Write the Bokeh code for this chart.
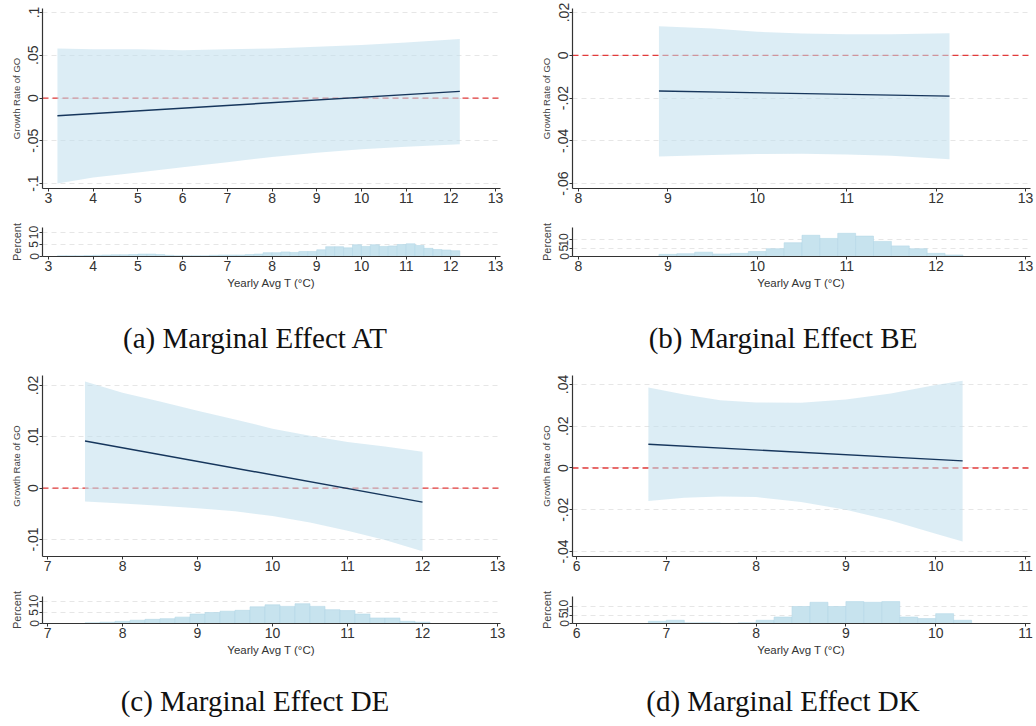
import numpy as np
from bokeh.plotting import figure
from bokeh.layouts import column, row
from bokeh.models import Span, Div
from bokeh.embed import file_html
from bokeh.resources import INLINE

# ---------------- data ----------------
# (a) AT
at_x = [3.2, 4, 5, 6, 7, 8, 9, 10, 11, 12.2]
at_upper = [0.058, 0.057, 0.057, 0.056, 0.057, 0.058, 0.060, 0.062, 0.065, 0.069]
at_lower = [-0.100, -0.093, -0.087, -0.081, -0.075, -0.069, -0.064, -0.060, -0.057, -0.054]
at_line_x = [3.2, 12.2]
at_line_y = [-0.0207, 0.0078]
at_yticks = [-0.1, -0.05, 0, 0.05, 0.1]
at_ylabels = ["-.1", "-.05", "0", ".05", ".1"]
at_xticks = [3, 4, 5, 6, 7, 8, 9, 10, 11, 12, 13]
at_bin_start = 3.2
at_pct = [0.3, 0.3, 0.3, 0.4,
          0.5, 0.6, 0.7, 0.7, 0.8,
          1.0, 1.0, 0.8, 0.5, 0.3,
          0.3, 0.3, 0.3, 0.5, 0.6,
          0.6, 0.6, 0.8, 1.0, 1.6,
          1.6, 1.9, 1.7, 2.1, 2.1,
          2.8, 4.1, 4.1, 3.6, 4.9,
          4.2, 4.9, 4.2, 4.4, 5.0,
          5.3, 4.6, 3.4, 2.9, 2.7,
          2.4]

# (b) BE
be_x = [8.9, 9.5, 10, 10.5, 11, 11.5, 12.15]
be_upper = [0.0136, 0.0125, 0.0110, 0.0102, 0.0098, 0.0098, 0.0103]
be_lower = [-0.0473, -0.0466, -0.0462, -0.0461, -0.0464, -0.0470, -0.0486]
be_line_x = [8.9, 12.15]
be_line_y = [-0.0167, -0.0191]
be_yticks = [-0.06, -0.04, -0.02, 0, 0.02]
be_ylabels = ["-.06", "-.04", "-.02", "0", ".02"]
be_xticks = [8, 9, 10, 11, 12, 13]
be_bin_start = 8.9
be_pct = [1.3, 1.7, 2.6, 1.5, 1.9, 3.0, 4.7, 8.3, 12.8, 10.9,
          14.0, 12.3, 9.1, 6.4, 4.7, 1.9, 0.9]

# (c) DE
de_x = [7.5, 8, 8.5, 9, 9.5, 10, 10.5, 11, 11.5, 12]
de_upper = [0.0208, 0.0186, 0.0169, 0.0151, 0.0134, 0.0116, 0.0102, 0.0090, 0.0081, 0.0071]
de_lower = [-0.0026, -0.0030, -0.0034, -0.0039, -0.0045, -0.0054, -0.0067, -0.0083, -0.0101, -0.0123]
de_line_x = [7.5, 12]
de_line_y = [0.0092, -0.0027]
de_yticks = [-0.01, 0, 0.01, 0.02]
de_ylabels = ["-.01", "0", ".01", ".02"]
de_xticks = [7, 8, 9, 10, 11, 12, 13]
de_bin_start = 7.5
de_pct = [0.3, 0.6, 1.0, 1.5, 1.9, 2.2, 2.9, 4.3, 5.0, 5.6, 6.0, 7.6,
          8.5, 7.8, 9.0, 7.8, 6.3, 5.9, 4.3, 2.5, 2.5, 1.0, 0.6]

# (d) DK
dk_x = [6.8, 7.2, 7.6, 8, 8.5, 9, 9.5, 10, 10.3]
dk_upper = [0.0386, 0.0352, 0.0325, 0.0314, 0.0312, 0.0328, 0.0357, 0.0397, 0.0418]
dk_lower = [-0.0158, -0.0142, -0.0136, -0.0139, -0.0163, -0.0200, -0.0251, -0.0315, -0.0352]
dk_line_x = [6.8, 10.3]
dk_line_y = [0.0114, 0.0034]
dk_yticks = [-0.04, -0.02, 0, 0.02, 0.04]
dk_ylabels = ["-.04", "-.02", "0", ".02", ".04"]
dk_xticks = [6, 7, 8, 9, 10, 11]
dk_bin_start = 6.8
dk_pct = [1.3, 1.9, 0.4, 0.4, 0.1, 0.4, 1.9, 3.8, 10.0, 12.5,
          10.0, 12.9, 12.5, 12.9, 3.8, 2.9, 5.8, 1.9]

bin_width = 0.2
hist_yticks = [0, 5, 10]

captions = ["(a) Marginal Effect AT", "(b) Marginal Effect BE",
            "(c) Marginal Effect DE", "(d) Marginal Effect DK"]
y_title = "Growth Rate of GO"
hist_title = "Percent"
x_title = "Yearly Avg T (\u00b0C)"

# ---------------- style ----------------
SANS = "Liberation Sans"
SERIF = "Liberation Serif"
BAND = "#bfdfec"
NAVY = "#16365c"
RED = "#e23b3b"
BAR = "#c7e3ee"
AXIS = "#333333"
GRID = "#e6e6e6"


def base_axes(p, xticks, yticks, ylabels, ylabel, ylab_size, ytick_size):
    p.outline_line_color = None
    p.xgrid.visible = False
    p.ygrid.grid_line_color = GRID
    p.ygrid.grid_line_dash = "5 4"
    p.xaxis.ticker = xticks
    p.yaxis.ticker = yticks
    p.yaxis.major_label_overrides = {t: s for t, s in zip(yticks, ylabels)}
    p.yaxis.major_label_orientation = "vertical"
    p.yaxis.axis_label = ylabel
    p.yaxis.axis_label_text_font_size = ylab_size
    p.yaxis.axis_label_text_font_style = "normal"
    p.yaxis.axis_label_text_color = "#444444"
    p.yaxis.axis_label_standoff = 4
    p.yaxis.major_label_text_font_size = ytick_size
    p.xaxis.major_label_text_font_size = "14px"
    for ax in p.axis:
        ax.axis_line_color = AXIS
        ax.axis_line_width = 1.2
        ax.major_tick_line_color = AXIS
        ax.major_tick_out = 3
        ax.major_tick_in = 0
        ax.minor_tick_line_color = None
        ax.major_label_standoff = 1
        ax.major_label_text_font = SANS
        ax.major_label_text_color = "#333333"
        ax.axis_label_text_font = SANS


def main_plot(width, height, left, right, top, bottom, xr, yr,
              bx, bup, blo, lx, ly, xticks, yticks, ylabels):
    p = figure(width=width, height=height, x_range=xr, y_range=yr,
               toolbar_location=None, output_backend="svg",
               min_border_left=left, min_border_right=right,
               min_border_top=top, min_border_bottom=bottom)
    base_axes(p, xticks, yticks, ylabels, y_title, "9.5px", "14px")
    p.add_layout(Span(location=0, dimension="width", line_color=RED,
                      line_dash="6 4", line_width=1.3, level="underlay"))
    p.varea(x=bx, y1=blo, y2=bup, fill_color=BAND, fill_alpha=0.55)
    p.line(lx, ly, line_color=NAVY, line_width=1.4)
    return p


def hist_plot(width, height, left, right, top, bottom, xr, ymax,
              start, pct, xticks):
    lo = [start + i * bin_width for i in range(len(pct))]
    hi = [v + bin_width for v in lo]
    p = figure(width=width, height=height, x_range=xr, y_range=(0, ymax),
               toolbar_location=None, output_backend="svg",
               min_border_left=left, min_border_right=right,
               min_border_top=top, min_border_bottom=bottom)
    base_axes(p, xticks, hist_yticks, [str(t) for t in hist_yticks],
              hist_title, "11px", "12px")
    p.quad(left=lo, right=hi, bottom=0, top=pct, fill_color=BAR,
           line_color="#b6d9e7", line_width=0.6)
    p.xaxis.axis_label = x_title
    p.xaxis.axis_label_text_font_size = "11.5px"
    p.xaxis.axis_label_text_font_style = "normal"
    p.xaxis.axis_label_text_color = "#333333"
    p.xaxis.axis_label_standoff = 3
    return p


def caption_div(width, height, pad, shift, text):
    html = ('<div style="width:%dpx;text-align:center;font-family:\'%s\';'
            'font-size:29px;line-height:29px;color:#111;padding-top:%dpx;'
            'position:relative;left:%dpx;white-space:nowrap">%s</div>'
            % (width, SERIF, pad, shift, text))
    return Div(text=html, width=width, height=height, margin=0)


LW, RW = 518, 516
L_L, L_R = 42, 18
R_L, R_R = 54, 4

# row 1
pa = main_plot(LW, 218, L_L, L_R, 8, 30, (2.866, 13.11), (-0.1058, 0.1047),
               at_x, at_upper, at_lower, at_line_x, at_line_y,
               at_xticks, at_yticks, at_ylabels)
ha = hist_plot(LW, 82, L_L, L_R, 9, 44, pa.x_range, 12.1,
               at_bin_start, at_pct, at_xticks)
ca = caption_div(LW, 60, 24, -4, captions[0])

pb = main_plot(RW, 218, R_L, R_R, 8, 30, (7.933, 13.056), (-0.0623, 0.0219),
               be_x, be_upper, be_lower, be_line_x, be_line_y,
               be_xticks, be_yticks, be_ylabels)
hb = hist_plot(RW, 82, R_L, R_R, 9, 44, pb.x_range, 17.5,
               be_bin_start, be_pct, be_xticks)
cb = caption_div(RW, 60, 24, 7, captions[1])

# row 2
pc = main_plot(LW, 226, L_L, L_R, 15, 30, (6.933, 13.04), (-0.0133, 0.02195),
               de_x, de_upper, de_lower, de_line_x, de_line_y,
               de_xticks, de_yticks, de_ylabels)
hc = hist_plot(LW, 82, L_L, L_R, 10, 45, pc.x_range, 12.3,
               de_bin_start, de_pct, de_xticks)
cc = caption_div(LW, 56, 19, -4, captions[2])

pd_ = main_plot(RW, 226, R_L, R_R, 15, 30, (5.955, 11.056), (-0.0424, 0.0443),
                dk_x, dk_upper, dk_lower, dk_line_x, dk_line_y,
                dk_xticks, dk_yticks, dk_ylabels)
hd = hist_plot(RW, 82, R_L, R_R, 10, 45, pd_.x_range, 15.9,
               dk_bin_start, dk_pct, dk_xticks)
cd = caption_div(RW, 56, 19, 7, captions[3])

layout = column(row(column(pa, ha, ca), column(pb, hb, cb)),
                row(column(pc, hc, cc), column(pd_, hd, cd)))

open("out.html", "w").write(file_html(layout, INLINE))
